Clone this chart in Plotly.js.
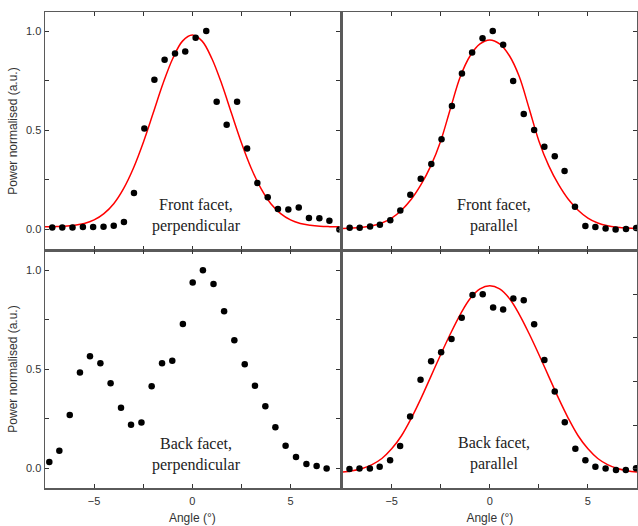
<!DOCTYPE html>
<html>
<head>
<meta charset="utf-8">
<script src="https://cdn.plot.ly/plotly-3.0.1.min.js"></script>
<style>html,body{margin:0;padding:0;background:#fff;}#chart{width:638px;height:526px;}</style>
</head>
<body>
<div id="chart"></div>
<script>
// ---- Data ----
// Front facet, perpendicular (top-left)
var fpX = [-7.13,-6.62,-6.10,-5.57,-5.05,-4.52,-4.00,-3.48,-2.97,-2.44,-1.93,-1.41,-0.88,-0.36,0.17,0.71,1.24,1.75,2.28,2.79,3.31,3.84,4.36,4.89,5.42,5.94,6.47,6.98,7.49];
var fpY = [0.008,0.008,0.008,0.010,0.010,0.012,0.017,0.035,0.182,0.507,0.754,0.855,0.887,0.896,0.966,1.000,0.643,0.527,0.643,0.407,0.232,0.160,0.101,0.098,0.109,0.056,0.054,0.042,-0.002];
// Front facet, parallel (top-right)
var fparX = [-7.14,-6.63,-6.10,-5.60,-5.07,-4.56,-4.05,-3.52,-2.98,-2.46,-1.93,-1.42,-0.90,-0.37,0.15,0.68,1.19,1.73,2.26,2.78,3.31,3.81,4.34,4.87,5.38,5.90,6.41,6.94,7.46];
var fparY = [0.007,0.007,0.013,0.022,0.044,0.093,0.173,0.254,0.328,0.453,0.621,0.786,0.892,0.963,1.000,0.931,0.747,0.581,0.500,0.416,0.367,0.293,0.113,0.015,0.010,0.003,-0.002,0.000,0.005];
// Back facet, perpendicular (bottom-left)
var bpX = [-7.28,-6.77,-6.24,-5.72,-5.21,-4.68,-4.16,-3.63,-3.12,-2.59,-2.07,-1.54,-1.02,-0.48,0.02,0.54,1.08,1.62,2.14,2.67,3.19,3.72,4.23,4.75,5.28,5.81,6.33,6.84];
var bpY = [0.032,0.089,0.269,0.484,0.566,0.531,0.430,0.306,0.220,0.232,0.415,0.531,0.543,0.729,0.938,1.000,0.931,0.793,0.647,0.526,0.417,0.313,0.207,0.114,0.057,0.022,0.012,0.000];
// Back facet, parallel (bottom-right)
var bparX = [-7.15,-6.64,-6.11,-5.61,-5.08,-4.57,-4.06,-3.53,-2.99,-2.48,-1.95,-1.43,-0.88,-0.36,0.17,0.68,1.20,1.73,2.26,2.78,3.31,3.82,4.36,4.87,5.38,5.90,6.43,6.93,7.45];
var bparY = [0.000,0.002,0.002,0.013,0.050,0.132,0.300,0.511,0.616,0.668,0.744,0.866,0.996,1.000,0.924,0.912,0.975,0.966,0.828,0.624,0.443,0.267,0.116,0.050,0.013,0.002,-0.006,-0.006,0.004];

// Fitted curves
var fitX = [-7.5,-7,-6.5,-6,-5.5,-5,-4.5,-4,-3.5,-3,-2.5,-2,-1.5,-1,-0.5,0,0.5,1,1.5,2,2.5,3,3.5,4,4.5,5,5.5,6,6.5,7,7.5];
var fitFP = [0.011,0.012,0.014,0.019,0.028,0.046,0.078,0.128,0.204,0.307,0.436,0.583,0.732,0.860,0.949,0.980,0.949,0.860,0.732,0.583,0.436,0.307,0.204,0.128,0.078,0.046,0.028,0.019,0.014,0.012,0.011];
var fitFPar = [0.003,0.005,0.009,0.016,0.030,0.055,0.095,0.150,0.225,0.320,0.445,0.610,0.770,0.875,0.935,0.955,0.935,0.875,0.770,0.610,0.445,0.320,0.225,0.150,0.095,0.055,0.030,0.016,0.009,0.005,0.003];
var fitBPar = [-0.018,-0.010,0.003,0.025,0.060,0.115,0.190,0.290,0.405,0.530,0.655,0.775,0.885,0.975,1.030,1.048,1.030,0.975,0.885,0.775,0.655,0.530,0.405,0.290,0.190,0.115,0.060,0.025,0.003,-0.010,-0.018];

var labels = ["Front facet,<br>perpendicular","Front facet,<br>parallel","Back facet,<br>perpendicular","Back facet,<br>parallel"];

// ---- Styling ----
var mk = {color:'#000', size:6.5, symbol:'circle'};
var ln = {color:'#ff0000', width:1.5, shape:'spline', smoothing:1};
function pts(x,y,xa,ya){return {type:'scatter',mode:'markers',x:x,y:y,xaxis:xa,yaxis:ya,marker:mk,hoverinfo:'x+y'};}
function fit(y,xa,ya){return {type:'scatter',mode:'lines',x:fitX,y:y,xaxis:xa,yaxis:ya,line:ln,hoverinfo:'skip'};}

var data = [
  fit(fitFP,'x','y'), pts(fpX,fpY,'x','y'),
  fit(fitFPar,'x2','y2'), pts(fparX,fparY,'x2','y2'),
  pts(bpX,bpY,'x3','y3'),
  fit(fitBPar,'x4','y4'), pts(bparX,bparY,'x4','y4')
];

var W=638,H=526;
var L=[45/W,339.6/W], R=[342.6/W,637/W];
var T=[(H-250)/H,(H-12)/H], B=[(H-488)/H,(H-250)/H];
var tickFont = {family:'Liberation Sans, Arial, sans-serif', size:11, color:'#333'};
var lineC = '#5a5a5a';

function xax(dom, anchor, labels){
  return {domain:dom, anchor:anchor, range:[-7.5,7.5], showgrid:false, zeroline:false,
    showline:true, linecolor:lineC, linewidth:1.5, mirror:'ticks',
    ticks:'inside', ticklen:4, tickwidth:1, tickcolor:'#333', tick0:0, dtick:5,
    minor:{ticks:'inside', ticklen:4, tickwidth:1, tickcolor:'#333', tick0:0, dtick:2.5},
    showticklabels:labels, tickfont:tickFont, ticklabelstandoff:2,
    title: labels ? {text:'Angle (°)', font:{family:'Liberation Sans, Arial, sans-serif', size:12, color:'#333'}, standoff:8} : {text:''}};
}
function yleft(dom, anchor, rng){
  return {domain:dom, anchor:anchor, range:rng, showgrid:false, zeroline:false,
    showline:true, linecolor:lineC, linewidth:1.5, mirror:'ticks',
    ticks:'inside', ticklen:4, tickwidth:1, tickcolor:'#333', tick0:0, dtick:0.5, tickformat:'.1f',
    minor:{ticks:'inside', ticklen:4, tickwidth:1, tickcolor:'#333', tick0:0, dtick:0.25},
    showticklabels:true, tickfont:tickFont,
    title:{text:'Power normalised (a.u.)', font:{family:'Liberation Sans, Arial, sans-serif', size:12, color:'#333'}, standoff:6}};
}
function yright(dom, anchor, rng){
  return {domain:dom, anchor:anchor, range:rng, side:'right', showgrid:false, zeroline:false,
    showline:true, linecolor:lineC, linewidth:1.5, mirror:true,
    ticks:'inside', ticklen:4, tickwidth:1, tickcolor:'#333', tick0:0, dtick:0.25,
    showticklabels:false};
}

var annFont = {family:'Liberation Serif, Times New Roman, serif', size:16, color:'#222'};
function ann(i, xr, yr, x, y){
  return {text:labels[i], xref:xr, yref:yr, x:x, y:y, showarrow:false, align:'center',
    xanchor:'center', yanchor:'middle', font:annFont};
}

var layout = {
  width:W, height:H, margin:{l:0,r:0,t:0,b:0}, paper_bgcolor:'#fff', plot_bgcolor:'#fff',
  showlegend:false,
  xaxis: xax(L,'y',false), yaxis: yleft(T,'x',[-0.106,1.096]),
  xaxis2: xax(R,'y2',false), yaxis2: yright(T,'x2',[-0.106,1.096]),
  xaxis3: xax(L,'y3',true), yaxis3: yleft(B,'x3',[-0.099,1.102]),
  xaxis4: xax(R,'y4',true), yaxis4: yright(B,'x4',[-0.109,1.253]),
  annotations:[
    ann(0,'x','y',0.19,0.068),
    ann(1,'x2','y2',0.19,0.068),
    ann(2,'x3','y3',0.19,0.072),
    ann(3,'x4','y4',0.19,0.086)
  ]
};

Plotly.newPlot('chart', data, layout, {displayModeBar:false, staticPlot:true});
</script>
</body>
</html>
